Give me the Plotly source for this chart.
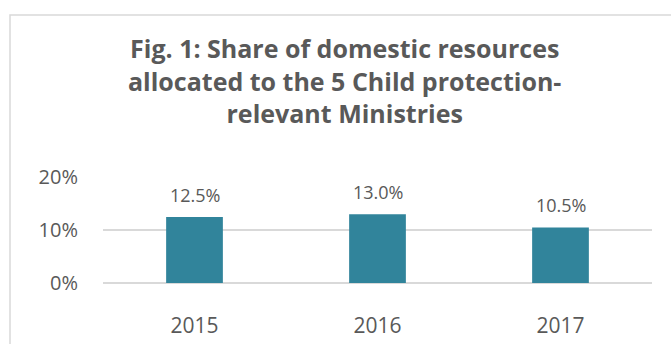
import plotly.graph_objects as go

years = ["2015", "2016", "2017"]
shares = [0.125, 0.130, 0.105]
labels = ["12.5%", "13.0%", "10.5%"]
y_ticks = [0, 0.1, 0.2]
y_tick_text = ["0%", "10%", "20%"]

FONT = "Open Sans"
GREY = "#595959"

fig = go.Figure(go.Bar(x=years, y=shares, marker_color="#31849b", width=0.31,
                       marker_line_width=0))

for i, (y, t) in enumerate(zip(shares, labels)):
    fig.add_annotation(x=i, y=y, text=t, showarrow=False, yanchor="bottom",
                       yshift=8, font=dict(family=FONT, size=18, color=GREY))

fig.add_annotation(xref="paper", yref="paper", x=0.44, y=(283 - 80) / 106,
                   text="<b>Fig. 1: Share of domestic resources<br>allocated to the 5 Child protection-<br>relevant Ministries</b>",
                   showarrow=False, align="center", yanchor="middle",
                   font=dict(family=FONT, size=25, color=GREY))

fig.add_shape(type="rect", xref="paper", yref="paper",
              x0=(10 - 103) / 549, x1=1.2, y0=-1.0, y1=(283 - 15) / 106,
              line=dict(color="#d9d9d9", width=1.5), fillcolor="rgba(0,0,0,0)")

fig.update_layout(
    width=671, height=344,
    margin=dict(l=103, r=19, t=177, b=61),
    paper_bgcolor="white", plot_bgcolor="white",
    showlegend=False,
    xaxis=dict(type="category", range=[-0.5, 2.5], showgrid=False,
               showline=False, zeroline=False, automargin=False,
               tickfont=dict(family=FONT, size=21, color=GREY),
               ticklabelstandoff=28),
    yaxis=dict(range=[0, 0.2005], tickvals=y_ticks, ticktext=y_tick_text,
               showgrid=True, gridcolor="#d9d9d9", gridwidth=1.5,
               zeroline=True, zerolinecolor="#d9d9d9", zerolinewidth=1.5,
               showline=False, automargin=False,
               tickfont=dict(family=FONT, size=20, color=GREY),
               ticklabelstandoff=24),
)

fig.write_html("out.html")
